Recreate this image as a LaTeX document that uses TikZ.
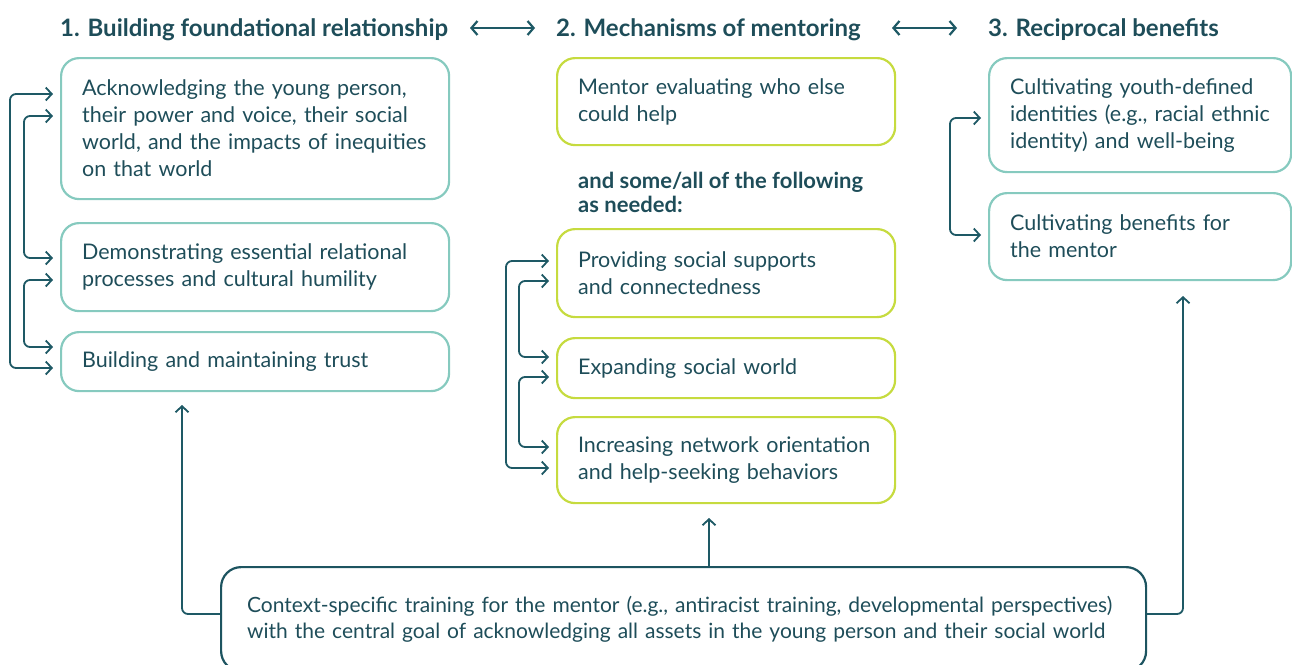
\documentclass[tikz,border=0pt]{standalone}
\usepackage{fontspec}
\setmainfont{Lato}
\usetikzlibrary{arrows.meta}
\definecolor{tealline}{HTML}{86CABF}
\definecolor{limeline}{HTML}{C6DB3F}
\definecolor{ink}{HTML}{1E4D59}
\definecolor{arrowc}{HTML}{1E5965}
\definecolor{basebox}{HTML}{1D5460}
% keep each printed line on one line
\newcommand{\oneline}[1]{\mbox{#1}}

\begin{document}
\begin{tikzpicture}[x=1pt,y=-1pt,
  every node/.style={inner sep=0pt, text=ink},
  body/.style={font=\fontsize{21.5}{27}\selectfont},
  card/.style={draw, line width=2.2pt, rounded corners=18pt, anchor=north west,
    align=left, inner xsep=21pt, inner ysep=6pt, body,
    execute at begin node={\hfuzz=40pt}},
  tcard/.style={card, draw=tealline},
  lcard/.style={card, draw=limeline},
  head/.style={font=\fontsize{24}{28}\selectfont\bfseries, anchor=base west},
  link/.style={draw=arrowc, line width=1.8pt, rounded corners=6pt,
    {Straight Barb[length=6pt,width=13pt]}-{Straight Barb[length=6pt,width=13pt]},
    shorten <=7pt, shorten >=7pt},
  up/.style={draw=arrowc, line width=1.8pt, rounded corners=6pt,
    -{Straight Barb[length=6pt,width=13pt]}},
  pair/.style={draw=arrowc, line width=2.2pt,
    {Straight Barb[length=6pt,width=14pt]}-{Straight Barb[length=6pt,width=14pt]}},
]
\useasboundingbox (0,0) rectangle (1292,664);

% column headings
\node[head] (H1) at (60,36) {1. Building foundational relationship};
\node[head] (H2) at (556,36) {2. Mechanisms of mentoring};
\node[head] (H3) at (988,36) {3. Reciprocal benefits};
\coordinate (h12a) at (470,28);
\coordinate (h12b) at (535,28);
\coordinate (h23a) at (892,28);
\coordinate (h23b) at (957,28);
\draw[pair] (h12a) -- (h12b);
\draw[pair] (h23a) -- (h23b);

% column 1
\node[tcard, text width=346pt, minimum height=141pt] (A) at (60,57)
  {\oneline{Acknowledging the young person,}\\\oneline{their power and voice, their social}\\\oneline{world, and the impacts of inequities}\\\oneline{on that world}};
\node[tcard, text width=346pt, minimum height=88pt] (B) at (60,222)
  {\oneline{Demonstrating essential relational}\\\oneline{processes and cultural humility}};
\node[tcard, text width=346pt, minimum height=59pt] (C) at (60,331)
  {\oneline{Building and maintaining trust}};

\draw[link] (A.west |- 0,94) -- ++(-50,0) |- (C.west |- 0,368);
\draw[link] (A.west |- 0,116) -- ++(-36,0) |- (B.west |- 0,258);
\draw[link] (B.west |- 0,280) -- ++(-36,0) |- (C.west |- 0,347);

% column 2
\node[lcard, text width=296pt, minimum height=87pt] (M) at (556,57)
  {\oneline{Mentor evaluating who else}\\\oneline{could help}};
\node[anchor=north west, align=left, font=\fontsize{22}{24}\selectfont\bfseries] (N) at (578,172)
  {and some/all of the following\\as needed:};
\node[lcard, text width=296pt, minimum height=88pt] (P) at (556,228)
  {\oneline{Providing social supports}\\\oneline{and connectedness}};
\node[lcard, text width=296pt, minimum height=60pt] (E) at (556,337)
  {\oneline{Expanding social world}};
\node[lcard, text width=296pt, minimum height=86pt] (I) at (556,416)
  {\oneline{Increasing network orientation}\\\oneline{and help-seeking behaviors}};

\draw[link] (P.west |- 0,261) -- ++(-50,0) |- (I.west |- 0,468);
\draw[link] (P.west |- 0,281) -- ++(-37,0) |- (E.west |- 0,357);
\draw[link] (E.west |- 0,377) -- ++(-37,0) |- (I.west |- 0,447);

% column 3
\node[tcard, text width=260pt, minimum height=114pt] (Y) at (988,57)
  {\oneline{Cultivating youth-defined}\\\oneline{identities (e.g., racial ethnic}\\\oneline{identity) and well-being}};
\node[tcard, text width=260pt, minimum height=87pt] (F) at (988,192)
  {\oneline{Cultivating benefits for}\\\oneline{the mentor}};

\draw[link] (Y.west |- 0,118) -- ++(-38,0) |- (F.west |- 0,235);

% training base
\node[draw=basebox, line width=2.2pt, rounded corners=20pt, anchor=north west,
  align=left, inner xsep=26pt, text width=873pt, minimum height=104pt,
  font=\fontsize{21}{26}\selectfont] (T) at (220,566)
  {Context-specific training for the mentor (e.g., antiracist training, developmental perspectives)\\with the central goal of acknowledging all assets in the young person and their social world};

\coordinate (cL) at (182,405);
\coordinate (cM) at (709,518);
\coordinate (cR) at (1183,296);
\draw[up] (T.west |- 0,614) -| (cL);
\draw[up] (T.north -| cM) -- (cM);
\draw[up] (T.east |- 0,614) -| (cR);
\end{tikzpicture}
\end{document}
